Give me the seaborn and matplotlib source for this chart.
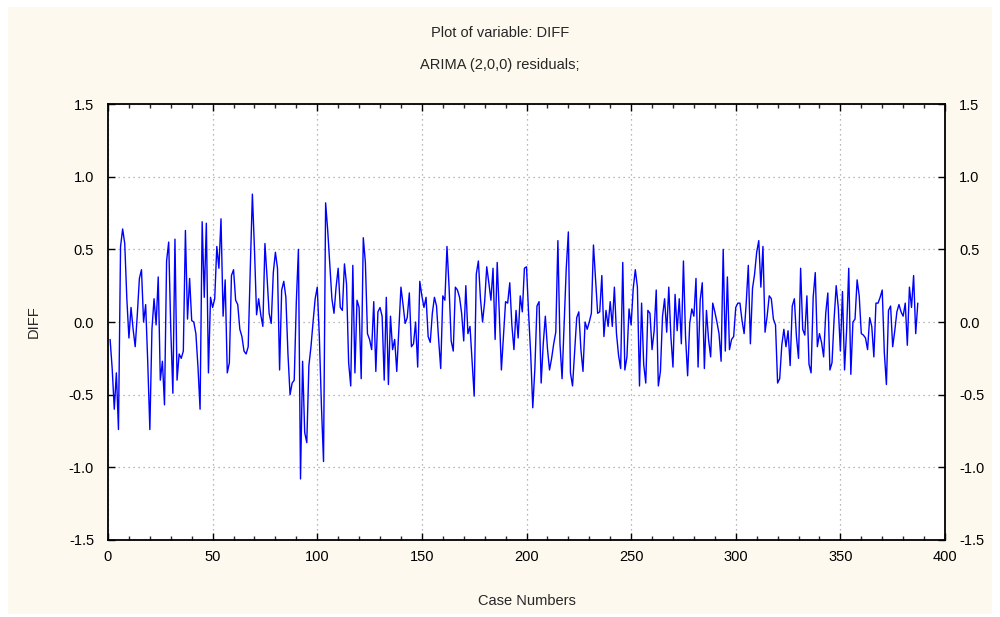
import numpy as np
import pandas as pd
import matplotlib
matplotlib.use("Agg")
import matplotlib.pyplot as plt
from matplotlib.patches import Rectangle
from matplotlib.ticker import MultipleLocator
import seaborn as sns

title_line1 = "Plot of variable: DIFF"
title_line2 = "ARIMA (2,0,0) residuals;"
x_label = "Case Numbers"
y_label = "DIFF"

seg_01_39 = [-0.12, -0.32, -0.60, -0.35, -0.74, 0.52, 0.64, 0.54, 0.16, -0.11,
             0.10, -0.05, -0.17, 0.05, 0.30, 0.36, 0.00, 0.12, -0.28, -0.74,
             -0.05, 0.16, -0.02, 0.31, -0.40, -0.27, -0.57, 0.42, 0.55, -0.05,
             -0.49, 0.57, -0.40, -0.22, -0.25, -0.20, 0.63, 0.02, 0.30]
seg_40_76 = [0.01, 0.00, -0.08, -0.31, -0.60, 0.69, 0.17, 0.68, -0.35, 0.17,
             0.10, 0.16, 0.52, 0.37, 0.71, 0.04, 0.29, -0.35, -0.28, 0.32,
             0.36, 0.15, 0.12, -0.05, -0.10, -0.20, -0.22, -0.17, 0.37, 0.88,
             0.50, 0.05, 0.16, 0.05, -0.03, 0.54, 0.31]
seg_77_114 = [0.06, -0.01, 0.34, 0.48, 0.37, -0.33, 0.22, 0.28, 0.17, -0.22,
              -0.50, -0.42, -0.40, 0.14, 0.50, -1.08, -0.27, -0.76, -0.83, -0.30,
              -0.17, 0.00, 0.16, 0.24, -0.10, -0.58, -0.96, 0.82, 0.63, 0.40,
              0.16, 0.06, 0.24, 0.37, 0.10, 0.08, 0.40, 0.26]
seg_115_153 = [-0.28, -0.44, 0.39, -0.35, 0.15, 0.10, -0.39, 0.58, 0.41, -0.08,
               -0.12, -0.19, 0.14, -0.34, 0.07, 0.10, 0.04, -0.40, 0.17, -0.43,
               0.04, -0.19, -0.12, -0.34, -0.05, 0.24, 0.12, -0.01, 0.03, 0.20,
               -0.17, -0.15, 0.00, -0.31, 0.28, 0.18, 0.10, 0.17, -0.10]
seg_154_192 = [-0.14, 0.06, 0.17, 0.11, -0.12, -0.32, 0.18, 0.15, 0.52, 0.24,
               -0.13, -0.20, 0.24, 0.22, 0.17, 0.06, -0.13, 0.25, -0.08, -0.03,
               -0.27, -0.51, 0.33, 0.42, 0.16, 0.00, 0.14, 0.38, 0.27, 0.15,
               0.37, -0.12, 0.41, 0.06, -0.33, -0.10, 0.14, 0.13, 0.27]
seg_193_230 = [-0.02, -0.19, 0.08, -0.11, 0.18, 0.07, 0.37, 0.38, 0.06, -0.22,
               -0.59, -0.32, 0.11, 0.14, -0.42, -0.15, 0.04, -0.18, -0.33, -0.25,
               -0.15, -0.07, 0.56, -0.15, -0.39, 0.00, 0.37, 0.62, -0.35, -0.44,
               -0.20, 0.03, 0.07, -0.19, -0.34, 0.00, -0.05, 0.00]
seg_231_268 = [0.06, 0.53, 0.29, 0.06, 0.07, 0.32, -0.10, 0.08, -0.03, 0.14,
               -0.03, 0.24, -0.08, -0.23, -0.32, 0.41, -0.33, -0.24, 0.09, -0.02,
               0.23, 0.36, 0.24, -0.44, 0.13, -0.29, -0.42, 0.08, 0.06, -0.19,
               -0.06, 0.22, -0.44, -0.34, 0.04, 0.16, -0.07, 0.24]
seg_269_307 = [-0.10, -0.31, 0.19, -0.06, 0.16, -0.15, 0.42, -0.10, -0.37, -0.01,
               0.09, 0.04, 0.30, -0.31, 0.15, 0.27, -0.32, 0.08, -0.12, -0.24,
               0.13, 0.07, 0.00, -0.08, -0.27, 0.50, -0.20, 0.31, -0.19, -0.12,
               -0.10, 0.10, 0.13, 0.13, 0.01, -0.08, 0.13, 0.39, -0.15]
seg_308_345 = [0.23, 0.33, 0.48, 0.56, 0.24, 0.52, -0.07, 0.04, 0.18, 0.16,
               0.02, -0.02, -0.42, -0.39, -0.16, -0.05, -0.17, -0.06, -0.30, 0.11,
               0.16, -0.10, -0.25, 0.37, -0.05, -0.09, 0.18, -0.29, -0.35, 0.17,
               0.34, -0.17, -0.08, -0.14, -0.24, 0.06, 0.20, -0.33]
seg_346_387 = [-0.28, 0.02, 0.25, 0.10, -0.20, 0.21, -0.33, -0.05, 0.37, -0.36,
               0.00, 0.02, 0.29, 0.18, -0.08, -0.09, -0.11, -0.19, 0.03, -0.03,
               -0.24, 0.13, 0.13, 0.17, 0.22, -0.21, -0.43, 0.08, 0.11, -0.17,
               -0.06, 0.07, 0.12, 0.07, 0.04, 0.13, -0.16, 0.24, 0.10, 0.32,
               -0.08, 0.13]

diff_values = (seg_01_39 + seg_40_76 + seg_77_114 + seg_115_153 + seg_154_192
               + seg_193_230 + seg_231_268 + seg_269_307 + seg_308_345 + seg_346_387)
case_numbers = np.arange(1, len(diff_values) + 1)
df = pd.DataFrame({"case": case_numbers, "diff": diff_values})

sns.set_style("ticks")
plt.rcParams["font.family"] = ["Liberation Sans", "DejaVu Sans"]

cream = "#FDF9EE"
fig = plt.figure(figsize=(10, 6.17), dpi=100, facecolor="white")
fig.patches.append(Rectangle((0.008, 0.005), 0.984, 0.983, transform=fig.transFigure,
                             facecolor=cream, edgecolor="none", zorder=-10))
ax = fig.add_axes([0.108, 0.1248, 0.837, 0.7066])
ax.set_facecolor("white")

sns.lineplot(data=df, x="case", y="diff", ax=ax, color="#0000FF", linewidth=1.0)

ax.set_xlim(0, 400)
ax.set_ylim(-1.5, 1.5)
ax.xaxis.set_major_locator(MultipleLocator(50))
ax.xaxis.set_minor_locator(MultipleLocator(10))
ax.set_yticks([-1.5, -1.0, -0.5, 0.0, 0.5, 1.0, 1.5])
ax.set_yticklabels(["-1.5", "-1.0", "-0.5", "0.0", "0.5", "1.0", "1.5"])

ax.grid(True, which="major", color="#A0A0A0", linestyle=(0, (1, 3)), linewidth=0.9)
ax.tick_params(axis="both", which="major", direction="in", length=5, width=1,
               top=True, right=True, labelright=True, labelsize=10.5, colors="black")
ax.tick_params(axis="y", which="major", pad=10)
ax.tick_params(axis="x", which="major", pad=7)
ax.tick_params(axis="x", which="minor", direction="in", length=3, width=1, top=True)
for s in ax.spines.values():
    s.set_color("black")
    s.set_linewidth(1.3)

ax.set_xlabel(x_label, fontsize=10.5, labelpad=22)
ax.set_ylabel(y_label, fontsize=10.5, labelpad=20)

fig.text(0.5, 1 - 33 / 617, title_line1, ha="center", va="center", fontsize=10.5)
fig.text(0.5, 1 - 65 / 617, title_line2, ha="center", va="center", fontsize=10.5)

fig.savefig("out.png", dpi=100, facecolor=fig.get_facecolor())
